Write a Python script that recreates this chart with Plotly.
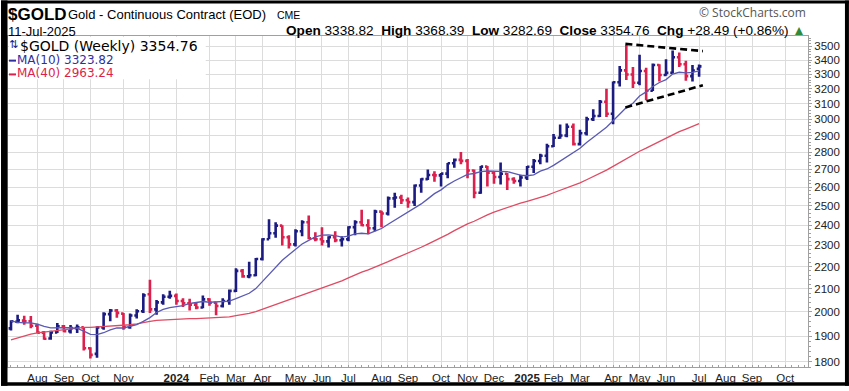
import math
import pandas as pd
import plotly.graph_objects as go

# ---------------- data (weekly bars, Monday-dated) ----------------
START = "2023-07-10"
OPEN = [1931, 1958, 1963, 1960, 1942, 1914, 1890, 1915, 1940, 1920,
        1932, 1935, 1852, 1830, 1935, 1990, 2005, 1992, 1936, 1984,
        2002, 2075, 2010, 2040, 2064, 2068, 2046, 2036, 2030, 2018,
        2053, 2038, 2024, 2046, 2090, 2180, 2155, 2160, 2235, 2330,
        2360, 2398, 2340, 2305, 2370, 2415, 2335, 2330, 2320, 2340,
        2325, 2330, 2390, 2415, 2400, 2385, 2470, 2460, 2540, 2545,
        2530, 2520, 2610, 2645, 2668, 2666, 2676, 2735, 2755, 2749,
        2694, 2570, 2716, 2681, 2657, 2675, 2645, 2635, 2654, 2715,
        2748, 2779, 2835, 2886, 2900, 2954, 2848, 2914, 3001, 3022,
        3114, 3036, 3245, 3327, 3298, 3241, 3323, 3187, 3365, 3295,
        3310, 3420, 3370, 3287, 3338.82]
HIGH = [1964, 1987, 1983, 1982, 1950, 1920, 1921, 1953, 1945, 1945,
        1947, 1937, 1856, 1940, 1998, 2012, 2012, 1995, 1993, 2010,
        2080, 2140, 2050, 2075, 2090, 2078, 2058, 2055, 2040, 2070,
        2058, 2040, 2058, 2096, 2192, 2188, 2222, 2240, 2335, 2430,
        2415, 2400, 2350, 2380, 2425, 2450, 2365, 2390, 2345, 2370,
        2345, 2395, 2425, 2480, 2430, 2480, 2475, 2550, 2570, 2560,
        2545, 2615, 2650, 2700, 2690, 2680, 2736, 2763, 2801, 2760,
        2700, 2720, 2720, 2685, 2740, 2680, 2655, 2670, 2720, 2760,
        2790, 2850, 2910, 2968, 2975, 2975, 2935, 3017, 3065, 3125,
        3200, 3249, 3358, 3509, 3350, 3438, 3345, 3375, 3370, 3405,
        3470, 3455, 3395, 3365, 3368.39]
LOW = [1922, 1952, 1946, 1932, 1911, 1885, 1885, 1912, 1915, 1910,
       1912, 1843, 1812, 1815, 1925, 1960, 1975, 1925, 1930, 1972,
       1995, 1995, 1987, 2030, 2055, 2030, 2020, 2005, 2010, 2015,
       2025, 1985, 2018, 2030, 2085, 2148, 2146, 2155, 2228, 2330,
       2338, 2300, 2285, 2295, 2345, 2330, 2320, 2300, 2290, 2315,
       2295, 2320, 2350, 2395, 2355, 2370, 2390, 2450, 2490, 2510,
       2490, 2500, 2570, 2640, 2630, 2605, 2650, 2710, 2730, 2650,
       2540, 2565, 2605, 2620, 2615, 2585, 2620, 2605, 2640, 2680,
       2730, 2740, 2830, 2880, 2890, 2840, 2840, 2900, 2990, 3015,
       3015, 2970, 3215, 3260, 3205, 3225, 3123, 3185, 3250, 3290,
       3305, 3350, 3255, 3250, 3282.69]
CLOSE = [1960, 1964, 1960, 1942, 1914, 1889, 1915, 1940, 1920, 1932,
         1935, 1852, 1826, 1935, 1990, 2005, 1995, 1936, 1984, 2002,
         2070, 2010, 2040, 2064, 2068, 2046, 2036, 2030, 2018, 2053,
         2038, 2024, 2046, 2090, 2180, 2155, 2160, 2235, 2330, 2360,
         2398, 2340, 2305, 2370, 2415, 2335, 2330, 2320, 2340, 2325,
         2330, 2390, 2415, 2400, 2385, 2470, 2460, 2540, 2545, 2530,
         2520, 2610, 2645, 2668, 2666, 2676, 2735, 2755, 2749, 2694,
         2570, 2716, 2681, 2657, 2675, 2645, 2635, 2654, 2715, 2748,
         2779, 2835, 2886, 2900, 2954, 2848, 2914, 3001, 3022, 3114,
         3036, 3245, 3327, 3298, 3241, 3323, 3187, 3365, 3295, 3310,
         3420, 3370, 3287, 3326.27, 3354.76]
# 39 weekly closes before the first bar (needed for the moving averages)
PRIOR_CLOSE = [1648, 1656, 1648, 1681, 1771, 1754, 1768, 1809, 1810, 1800,
               1804, 1826, 1870, 1921, 1928, 1930, 1877, 1874, 1850, 1817,
               1856, 1867, 1989, 1983, 1986, 2011, 2015, 1990, 1999, 2025,
               2019, 1982, 1946, 1969, 1978, 1971, 1929, 1929, 1932]

LEGEND_MA10 = 3323.82
LEGEND_MA40 = 2963.24

TICK_DATES = ["2023-08-07", "2023-09-04", "2023-10-02", "2023-11-06", "2023-12-04",
              "2024-01-01", "2024-02-05", "2024-03-04", "2024-04-01", "2024-05-06",
              "2024-06-03", "2024-07-01", "2024-08-05", "2024-09-02", "2024-10-07",
              "2024-11-04", "2024-12-02", "2025-01-06", "2025-02-03", "2025-03-03",
              "2025-04-07", "2025-05-05", "2025-06-02", "2025-07-07", "2025-08-04",
              "2025-09-01", "2025-10-06"]
TICK_LABELS = ["Aug", "Sep", "Oct", "Nov", "", "<b>2024</b>", "Feb", "Mar", "Apr", "May",
               "Jun", "Jul", "Aug", "Sep", "Oct", "Nov", "Dec", "<b>2025</b>", "Feb", "Mar",
               "Apr", "May", "Jun", "Jul", "Aug", "Sep", "Oct"]
Y_TICKS = [1800, 1900, 2000, 2100, 2200, 2300, 2400, 2500, 2600,
           2700, 2800, 2900, 3000, 3100, 3200, 3300, 3400, 3500]

TREND_X = ["2025-04-20", "2025-07-11"]
TREND_UPPER = [3518, 3465]
TREND_LOWER = [3077, 3224]

# ---------------- styling ----------------
W, H = 849, 391
PL, PR, PT, PB = 7, 808, 36, 372
UP_COL = "#1b1b82"
DN_COL = "#dc1f4c"
MA10_COL = "#5a5ab4"
MA40_COL = "#e04a62"
GRID = "#dcdcdc"
AX = "#a0a0a0"
SANS = "Liberation Sans, Arial, sans-serif"


def px(x):
    return (x - PL) / (PR - PL)


def py(y):
    return (PB - y) / (PB - PT)


dates = pd.date_range(START, periods=len(CLOSE), freq="7D")
all_close = pd.Series(PRIOR_CLOSE + CLOSE, dtype=float)
n0 = len(PRIOR_CLOSE)
ma10 = all_close.rolling(10).mean().iloc[n0:].tolist()
ma40 = all_close.rolling(40).mean().iloc[n0:].tolist()

prev = [PRIOR_CLOSE[-1]] + CLOSE[:-1]
is_up = [c >= p for c, p in zip(CLOSE, prev)]

fig = go.Figure()

fig.add_trace(go.Scatter(x=dates, y=ma40, mode="lines",
                         line=dict(color=MA40_COL, width=1.3),
                         hoverinfo="skip", showlegend=False))
fig.add_trace(go.Scatter(x=dates, y=ma10, mode="lines",
                         line=dict(color=MA10_COL, width=1.3),
                         hoverinfo="skip", showlegend=False))


def sub(seq, mask):
    return [v for v, m in zip(seq, mask) if m]


for want, col in [(True, UP_COL), (False, DN_COL)]:
    mask = [u == want for u in is_up]
    fig.add_trace(go.Ohlc(
        x=sub(list(dates), mask), open=sub(OPEN, mask), high=sub(HIGH, mask),
        low=sub(LOW, mask), close=sub(CLOSE, mask),
        increasing=dict(line=dict(color=col, width=2.6)),
        decreasing=dict(line=dict(color=col, width=2.6)),
        tickwidth=0.36, hoverinfo="skip", showlegend=False))

for ys in (TREND_UPPER, TREND_LOWER):
    fig.add_trace(go.Scatter(x=TREND_X, y=ys, mode="lines",
                             line=dict(color="black", width=2.6, dash="7px,4px"),
                             hoverinfo="skip", showlegend=False))

shapes = []
# legend backdrop
shapes.append(dict(type="rect", xref="paper", yref="paper",
                   x0=px(PL + 1), x1=px(205), y0=py(80), y1=py(PT + 1),
                   fillcolor="white", line=dict(width=0), layer="above"))
# black frame of the screenshot
for (x0, x1, y0, y1) in [(0, 6.5, 0, H), (0, W, 0, 3), (845, W, 0, H), (0, W, 387.5, H)]:
    shapes.append(dict(type="rect", xref="paper", yref="paper",
                       x0=px(x0), x1=px(x1), y0=py(y1), y1=py(y0),
                       fillcolor="black", line=dict(width=0), layer="above"))

last = CLOSE[-1]
chg = CLOSE[-1] - CLOSE[-2]
pct = chg / CLOSE[-2] * 100
nb = "\u00a0"
hdr_right = (f"<b>Open</b> {OPEN[-1]:.2f}{nb}{nb}<b>High</b> {HIGH[-1]:.2f}{nb}{nb}"
             f"<b>Low</b> {LOW[-1]:.2f}{nb}{nb}<b>Close</b> {CLOSE[-1]:.2f}{nb}{nb}"
             f"<b>Chg</b> {chg:+.2f} ({pct:+.2f}%) "
             f"<span style='color:#2e8b3e'>▲</span>")

ann = []


def add_text(text, x, y, size, color="black", family=SANS, xanchor="left"):
    ann.append(dict(text=text, x=px(x), y=py(y), xref="paper", yref="paper",
                    xanchor=xanchor, yanchor="middle", showarrow=False,
                    font=dict(size=size, color=color, family=family)))


add_text("<b>$GOLD</b>", 5, 14, 17)
add_text("Gold - Continuous Contract (EOD)", 65, 14, 13)
add_text("CME", 274, 15, 10.5)
add_text("© StockCharts.com", 808, 12, 12, color="#555555",
         family="Open Sans, sans-serif", xanchor="right")
add_text("11-Jul-2025", 5, 31, 13)
add_text(hdr_right, 808, 30, 13.6, xanchor="right")

# legend
add_text("⇅", 6, 45, 11, color=UP_COL, family="DejaVu Sans")
add_text(f"$GOLD (Weekly) {last:.2f}", 17, 46, 14, family="DejaVu Sans")
add_text(f"MA(10) {LEGEND_MA10:.2f}", 14, 60, 12, color="#2f2fa0", family="DejaVu Sans")
add_text(f"MA(40) {LEGEND_MA40:.2f}", 14, 74, 12, color=DN_COL, family="DejaVu Sans")
shapes.append(dict(type="line", xref="paper", yref="paper", x0=px(8), x1=px(15),
                   y0=py(61), y1=py(61), line=dict(color="#2f2fa0", width=2), layer="above"))
shapes.append(dict(type="line", xref="paper", yref="paper", x0=px(8), x1=px(15),
                   y0=py(75), y1=py(75), line=dict(color=DN_COL, width=2), layer="above"))

minor_y = [v for v in range(1780, 3580, 20) if v % 100 != 0]

fig.update_layout(
    width=W, height=H,
    margin=dict(l=PL, r=W - PR, t=PT, b=H - PB, pad=0),
    paper_bgcolor="white", plot_bgcolor="white",
    showlegend=False,
    shapes=shapes, annotations=ann,
    xaxis=dict(type="date", range=["2023-07-06 20:00", "2025-10-30 05:00"],
               tickvals=TICK_DATES, ticktext=TICK_LABELS,
               showgrid=True, gridcolor=GRID, gridwidth=1,
               ticks="", showline=True, linecolor=AX, linewidth=1, mirror=True,
               tickfont=dict(family=SANS, size=11.5, color="#222222"),
               rangeslider=dict(visible=False), zeroline=False,
               minor=dict(ticks="inside", ticklen=2, tickcolor=AX,
                          dtick=7 * 86400000, tick0=START, showgrid=False)),
    yaxis=dict(type="log", range=[math.log10(1780), math.log10(3577)],
               side="right", tickvals=Y_TICKS, ticktext=[str(v) for v in Y_TICKS],
               showgrid=True, gridcolor=GRID, gridwidth=1,
               ticks="outside", ticklen=3, tickcolor=AX,
               showline=True, linecolor=AX, linewidth=1, mirror=True,
               tickfont=dict(family=SANS, size=11.5, color="#222222"),
               zeroline=False,
               minor=dict(ticks="outside", ticklen=2, tickcolor=AX,
                          tickvals=minor_y, showgrid=False)),
)

fig.write_html("out.html", include_plotlyjs=True, config={"displayModeBar": False},
               post_script="document.body.style.margin='0';document.body.style.overflow='hidden';")
